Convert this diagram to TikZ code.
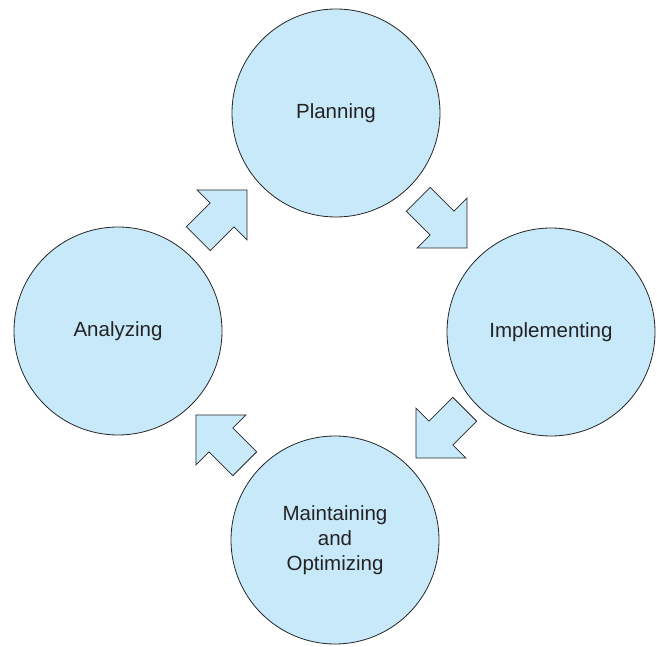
\documentclass[tikz,border=0pt]{standalone}
\usepackage{fontspec}
\setmainfont{Liberation Sans}
\usepackage{xcolor}
\usetikzlibrary{shapes.arrows, positioning}
\definecolor{phasefill}{RGB}{200,233,249}
\definecolor{phasetext}{RGB}{35,35,35}

\begin{document}
\begin{tikzpicture}[
  x=1pt, y=-1pt,
  every node/.style={font=\fontsize{20.5}{25}\selectfont, text=phasetext},
  phase/.style={circle, draw=black!85, fill=phasefill, line width=0.8pt, minimum size=208pt, inner sep=0pt, align=center},
  cyclearrow/.style={single arrow, draw=black!85, fill=phasefill, line width=0.8pt, minimum height=69pt, text width=0pt, text height=16.5pt, text depth=16.5pt, single arrow head extend=18.5pt, single arrow tip angle=90, inner sep=0pt, anchor=tail}
]
\useasboundingbox (0,0) rectangle (657,647);

% Phases
\node[phase] (plan) at (336,113) {Planning};
\node[phase] (impl) at (551,332) {Implementing};
\node[phase] (maint) at (335,540) {Maintaining\\and\\Optimizing};
\node[phase] (anal) at (118,331) {Analyzing};

% Block arrows between phases
\node[cyclearrow, rotate=45] (anal2plan) at (198,239) {};
\node[cyclearrow, rotate=-45] (plan2impl) at (418,199) {};
\node[cyclearrow, rotate=-135] (impl2maint) at (465,409) {};
\node[cyclearrow, rotate=135] (maint2anal) at (245,464) {};

\end{tikzpicture}
\end{document}
